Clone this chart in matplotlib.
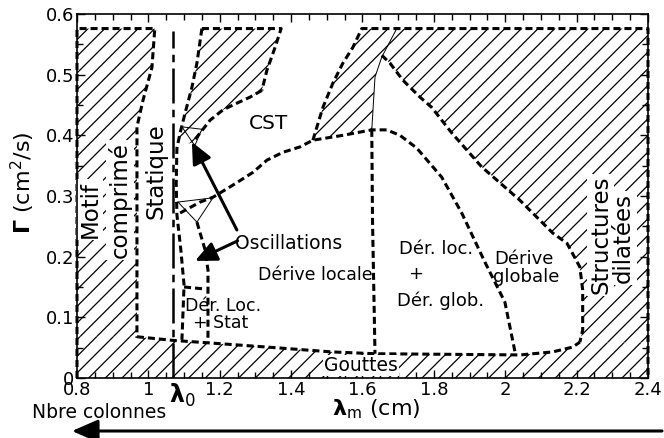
import matplotlib
matplotlib.use("Agg")
import matplotlib.pyplot as plt
from matplotlib.patches import Polygon, FancyArrowPatch
import matplotlib.transforms as mtransforms

plt.rcParams['font.family'] = ['DejaVu Sans']
plt.rcParams['mathtext.fontset'] = 'dejavusans'
plt.rcParams['hatch.linewidth'] = 0.9

# ---------------- axis data ----------------
x_ticks = [0.8, 1.0, 1.2, 1.4, 1.6, 1.8, 2.0, 2.2, 2.4]
x_ticklabels = ['0.8', '1', '1.2', '1.4', '1.6', '1.8', '2', '2.2', '2.4']
y_ticks = [0.0, 0.1, 0.2, 0.3, 0.4, 0.5, 0.6]
y_ticklabels = ['0', '0.1', '0.2', '0.3', '0.4', '0.5', '0.6']
lambda0 = 1.069
gamma_max = 0.576

# ---------------- region boundaries ----------------
# left region (Motif comprime)
left_x = [0.8, 0.8, 1.018, 1.010, 0.985, 0.968, 0.968]
left_y = [0.0, gamma_max, gamma_max, 0.512, 0.458, 0.414, 0.066]

# Gouttes boundary
gout_x = [0.968, 1.069, 1.167, 1.332, 1.514, 1.635, 1.850, 2.041, 2.133, 2.189, 2.209]
gout_y = [0.068, 0.062, 0.058, 0.051, 0.043, 0.040, 0.039, 0.038, 0.043, 0.051, 0.059]

# wedge left boundary (bottom -> top)
wedge_x = [1.461, 1.489, 1.517, 1.545, 1.573, 1.598]
wedge_y = [0.392, 0.446, 0.486, 0.519, 0.545, gamma_max]

# outer "Derive globale" / "Structures dilatees" boundary (top -> bottom)
outer_x = [1.654, 1.677, 1.713, 1.761, 1.794, 1.850, 1.934, 2.041, 2.133, 2.173,
           2.209, 2.217, 2.217, 2.209]
outer_y = [0.532, 0.519, 0.491, 0.463, 0.446, 0.404, 0.348, 0.293, 0.239, 0.222,
           0.183, 0.145, 0.079, 0.059]

# thin line on the right of the wedge
thin_x = [1.696, 1.654, 1.635, 1.626]
thin_y = [gamma_max, 0.529, 0.496, 0.409]

# CST lower boundary continuing as Der.loc / Der.glob separation
cst_x = [1.089, 1.145, 1.181, 1.237, 1.293, 1.332, 1.377, 1.425, 1.461, 1.545,
         1.626, 1.668, 1.705, 1.752, 1.822, 1.878, 1.943, 1.999, 2.027]
cst_y = [0.272, 0.290, 0.298, 0.318, 0.339, 0.359, 0.372, 0.381, 0.392, 0.400,
         0.409, 0.409, 0.400, 0.379, 0.331, 0.272, 0.191, 0.125, 0.044]

# vertical separation Derive locale / Der.loc+Der.glob
sep_x = [1.626, 1.628, 1.635]
sep_y = [0.409, 0.262, 0.040]

# top parallelogram
para_left_x = [1.150, 1.136, 1.122, 1.103, 1.089, 1.080]
para_left_y = [gamma_max, 0.519, 0.479, 0.437, 0.404, 0.379]
para_right_x = [1.372, 1.355, 1.332, 1.318]
para_right_y = [gamma_max, 0.545, 0.507, 0.474]
para_bot_x = [1.318, 1.285, 1.248, 1.209, 1.173, 1.145, 1.125]
para_bot_y = [0.474, 0.463, 0.453, 0.442, 0.425, 0.404, 0.389]

# Der. Loc. + Stat region boundaries
dl_x = [1.080, 1.078, 1.080, 1.091, 1.100, 1.094]
dl_y = [0.379, 0.320, 0.269, 0.211, 0.153, 0.063]
dr_x = [1.136, 1.159, 1.167, 1.167]
dr_y = [0.257, 0.211, 0.178, 0.058]
box_x = [1.100, 1.153]
box_y = [0.150, 0.147]

# small oscillation triangles
tri1_x = [1.083, 1.181, 1.136, 1.083]
tri1_y = [0.290, 0.297, 0.257, 0.290]
tri2_x = [1.094, 1.150, 1.130, 1.094]
tri2_y = [0.414, 0.410, 0.383, 0.414]

# arrows (start -> tip)
arrow_start = [(1.248, 0.244), (1.250, 0.226)]
arrow_tip = [(1.122, 0.389), (1.131, 0.193)]

# ---------------- figure ----------------
fig = plt.figure(figsize=(6.64, 4.38), dpi=100)
ax = fig.add_axes([77 / 664, 1 - 378 / 438, (648 - 77) / 664, (378 - 14) / 438])
ax.set_xlim(0.8, 2.4)
ax.set_ylim(0, 0.6)

hatch_kw = dict(closed=True, facecolor='white', edgecolor='black', lw=0, hatch='//', zorder=1)

# left region
ax.add_patch(Polygon(list(zip(left_x, left_y)) + [(0.968, 0.0)], **hatch_kw))
# Gouttes
g_poly = [(0.8, 0.0), (2.4, 0.0), (2.4, gout_y[-1])] + list(zip(gout_x[::-1], gout_y[::-1])) + [(0.8, gout_y[0])]
ax.add_patch(Polygon(g_poly, **hatch_kw))
# big right region
r_poly = list(zip(wedge_x, wedge_y)) + [(2.4, gamma_max), (2.4, outer_y[-1])]
r_poly += list(zip(outer_x[::-1], outer_y[::-1]))
r_poly += list(zip(thin_x[1:], thin_y[1:]))
r_poly += [(cst_x[9], cst_y[9])]
ax.add_patch(Polygon(r_poly, **hatch_kw))
# parallelogram
p_poly = list(zip(para_left_x, para_left_y)) + list(zip(para_bot_x[::-1], para_bot_y[::-1])) \
    + list(zip(para_right_x[::-1], para_right_y[::-1]))
ax.add_patch(Polygon(p_poly, **hatch_kw))

dash_kw = dict(color='black', lw=2.2, dashes=(2.3, 1.3), zorder=3,
               dash_capstyle='butt', clip_on=False)
thin_kw = dict(color='black', lw=0.7, zorder=3)

ax.plot(left_x, left_y, **dash_kw)
ax.plot(gout_x + [outer_x[-1]], gout_y + [outer_y[-1]], **dash_kw)
ax.plot(wedge_x + [2.4, 2.4], wedge_y + [gamma_max, 0.0], **dash_kw)
ax.plot(outer_x, outer_y, **dash_kw)
ax.plot(thin_x, thin_y, **thin_kw)
ax.plot(cst_x, cst_y, **dash_kw)
ax.plot(sep_x, sep_y, **dash_kw)
ax.plot(para_left_x + dl_x, para_left_y + dl_y, **dash_kw)
ax.plot([para_left_x[0]] + para_right_x, [para_left_y[0]] + para_right_y, **dash_kw)
ax.plot(para_bot_x, para_bot_y, **dash_kw)
ax.plot(dr_x, dr_y, **dash_kw)
ax.plot(box_x, box_y, **dash_kw)
ax.plot(tri1_x, tri1_y, **thin_kw)
ax.plot(tri2_x, tri2_y, **thin_kw)

# lambda_0 dash-dot line
ax.plot([lambda0, lambda0], [0.0, 0.572], color='black', lw=1.8,
        dashes=(14, 2.5, 3, 2.5), zorder=3)

for s, t in zip(arrow_start, arrow_tip):
    ax.annotate('', xy=t, xytext=s,
                arrowprops=dict(arrowstyle='-|>,head_length=0.65,head_width=0.3',
                                lw=2.2, color='black', mutation_scale=20,
                                shrinkA=0, shrinkB=0), zorder=5)

# ---------------- texts ----------------
wb = dict(facecolor='white', edgecolor='none', pad=1.5)
ax.text(0.836, 0.278, 'Motif', rotation=90, ha='center', va='center', fontsize=16.5, zorder=4, bbox=wb)
ax.text(0.921, 0.293, 'comprimé', rotation=90, ha='center', va='center', fontsize=16.5, zorder=4, bbox=wb)
ax.text(1.020, 0.341, 'Statique', rotation=90, ha='center', va='center', fontsize=16.5, zorder=4)
ax.text(1.338, 0.420, 'CST', ha='center', va='center', fontsize=14.5, zorder=4)
ax.text(1.243, 0.222, 'Oscillations', ha='left', va='center', fontsize=13.5, zorder=4)
ax.text(1.467, 0.170, 'Dérive locale', ha='center', va='center', fontsize=12.5, zorder=4)
ax.text(1.806, 0.213, 'Dér. loc.', ha='center', va='center', fontsize=13, zorder=4)
ax.text(1.750, 0.171, '+', ha='center', va='center', fontsize=13, zorder=4)
ax.text(1.820, 0.127, 'Dér. glob.', ha='center', va='center', fontsize=13, zorder=4)
ax.text(2.052, 0.196, 'Dérive', ha='center', va='center', fontsize=13, zorder=4)
ax.text(2.060, 0.166, 'globale', ha='center', va='center', fontsize=13, zorder=4)
ax.text(2.268, 0.236, 'Structures', rotation=90, ha='center', va='center', fontsize=16.5, zorder=4, bbox=wb)
ax.text(2.330, 0.231, 'dilatées', rotation=90, ha='center', va='center', fontsize=16.5, zorder=4, bbox=wb)
ax.text(1.209, 0.119, 'Dér. Loc.', ha='center', va='center', fontsize=12.5, zorder=4)
ax.text(1.203, 0.091, '+ Stat', ha='center', va='center', fontsize=12.5, zorder=4)
ax.text(1.596, 0.021, 'Gouttes', ha='center', va='center', fontsize=13.5, zorder=4,
        bbox=dict(facecolor='white', edgecolor='none', pad=0.5))

# ---------------- axes styling ----------------
ax.set_xticks(x_ticks)
ax.set_xticklabels(x_ticklabels)
ax.set_yticks(y_ticks)
ax.set_yticklabels(y_ticklabels)
ax.set_xticks([0.8 + 0.05 * i for i in range(33)], minor=True)
ax.set_yticks([0.05 * i for i in range(13)], minor=True)
ax.tick_params(which='both', direction='in', top=True, right=True, labelsize=13, width=1)
ax.tick_params(which='major', length=6)
ax.tick_params(which='minor', length=4)
ax.tick_params(axis='x', pad=2)
ax.tick_params(axis='y', pad=2)
for sp in ax.spines.values():
    sp.set_linewidth(1.2)
    sp.set_zorder(6)

# lambda_0 label under the axis
trans = mtransforms.blended_transform_factory(ax.transData, ax.transAxes)
ax.text(lambda0 - 0.01, -0.01, r'$\mathbf{\lambda}_{\mathrm{0}}$', transform=trans,
        ha='left', va='top', fontsize=17, zorder=6)

# axis labels
fig.text(23 / 664, 1 - 183 / 438, r'$\mathbf{\Gamma}$ (cm$^2$/s)', rotation=90,
         ha='center', va='center', fontsize=16)
fig.text(332 / 664, 1 - 409 / 438, r'$\mathbf{\lambda}_{\mathrm{m}}$ (cm)',
         ha='left', va='center', fontsize=16)
fig.text(99 / 664, 1 - 413 / 438, 'Nbre colonnes', ha='center', va='center', fontsize=13.5)

# bottom arrow (Nbre colonnes increasing to the left)
fig.patches.append(FancyArrowPatch(
    (662 / 664, 1 - 431 / 438), (72 / 664, 1 - 431 / 438), transform=fig.transFigure,
    arrowstyle='-|>,head_length=0.8,head_width=0.35', mutation_scale=20,
    lw=2.2, color='black', shrinkA=0, shrinkB=0))

fig.savefig('out.png', dpi=100)
